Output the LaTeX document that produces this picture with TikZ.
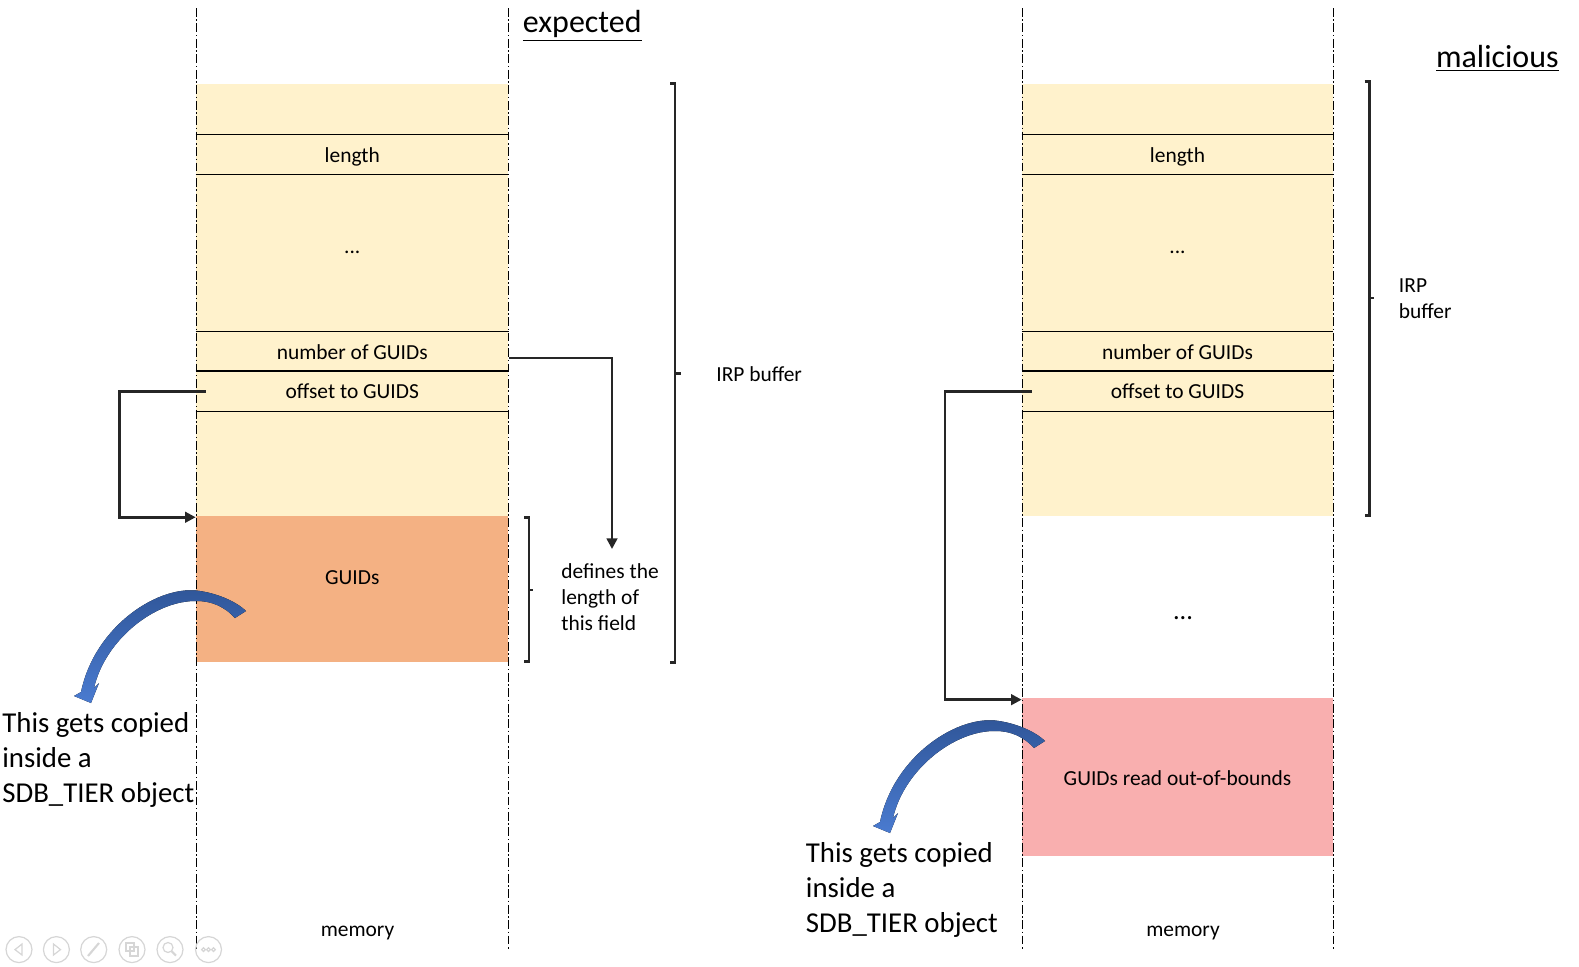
\documentclass[tikz,border=0pt]{standalone}
\usepackage{fontspec}
\setmainfont{Carlito}
\usetikzlibrary{arrows.meta}
\definecolor{buf}{HTML}{FFF2CC}
\definecolor{guid}{HTML}{F4B183}
\definecolor{oob}{HTML}{F9AFAF}
\definecolor{ink}{HTML}{262626}
\definecolor{blueA}{HTML}{2F5597}
\definecolor{blueB}{HTML}{4A7BD0}
\definecolor{uigray}{HTML}{D6D6D6}
\begin{document}
\begin{tikzpicture}[x=0.02cm,y=-0.02cm,
  fnt/.style={font=\fontsize{12.2}{14.8}\selectfont},
  memline/.style={line width=0.5pt, dash pattern=on 5pt off 1.5pt on 0.8pt off 1.5pt},
  rule/.style={line width=0.9pt, black},
  field/.style={fnt, minimum width=6.25cm, minimum height=0.79cm, inner sep=0pt},
  rfield/.style={field, minimum width=6.22cm},
  conn/.style={line width=1.4pt, ink, -{Triangle[length=6pt,width=6pt]}},
  brk/.style={line width=1.4pt, ink},
  big/.style={font=\fontsize{16.4}{19.8}\selectfont, align=left, inner sep=0pt, anchor=west},
  lbl/.style={fnt, align=left, inner sep=0pt, anchor=west},
  title/.style={font=\fontsize{18.2}{20}\selectfont, inner sep=0pt},
  copyarrow/.style={top color=blueA, bottom color=blueB, draw=none},
  uibtn/.style={draw=uigray, line width=0.7pt}
]
\useasboundingbox (0,0) rectangle (1579,967);

% ---------- left (expected) ----------
\node[fill=buf, minimum width=6.25cm, minimum height=8.64cm, inner sep=0pt] (Lbuf) at (352.25,299.6) {};
\node[fill=guid, minimum width=6.25cm, minimum height=2.92cm, inner sep=0pt] (Lguids) at (352.25,588.6) {};
\node[fnt] (LguidsT) at (352.25,578) {GUIDs};

\node[field, minimum height=0.78cm] (Llen) at (352.25,154.5) {};
\node[fnt] (LlenT) at ([yshift=-0.04cm]Llen.center) {length};
\node[fnt, anchor=base] (Ldots) at (352.25,253) {...};
\node[field] (Lnum) at (352.25,351.8) {number of GUIDs};
\node[field] (Loff) at (352.25,391.3) {offset to GUIDS};

\draw[rule] (Llen.north west) -- (Llen.north east);
\draw[rule] (Llen.south west) -- (Llen.south east);
\draw[rule] (Lnum.north west) -- (Lnum.north east);
\draw[rule] (Loff.north west) -- (Loff.north east);
\draw[rule] (Loff.south west) -- (Loff.south east);

\draw[memline] (196,8) -- (196,950);
\draw[memline] (508.5,8) -- (508.5,950);

\node[fnt] (Lmem) at (357.5,933.5) {memory};

\coordinate (Ltarget) at (612,549);
\draw[conn] ([xshift=0.2cm]Loff.west) -- ++(-86,0) |- ([yshift=-0.04cm]Lguids.north west);
\draw[conn] ([yshift=-0.12cm]Lnum.east) -| (Ltarget);

% small bracket
\draw[brk] (524,517.6) -- (529,517.6) -- (529,661.6) -- (524,661.6);
\draw[brk] (529,590) -- (533,590);
\node[lbl] (defines) at (561,597) {defines the\\length of\\this field};

% big bracket
\draw[brk] (670,83.6) -- (675,83.6) -- (675,662.6) -- (670,662.6);
\draw[brk] (675,373.6) -- (681,373.6);
\node[lbl] (irpL) at (716,374.6) {IRP buffer};

\node[title, anchor=west] (expected) at (522.6,26) {\underline{expected}};

\node[big] (copyL) at (2,760) {This gets copied\\inside a\\SDB\_TIER object};

% ---------- right (malicious) ----------
\node[fill=buf, minimum width=6.22cm, minimum height=8.64cm, inner sep=0pt] (Rbuf) at (1177.5,299.6) {};
\node[fill=oob, minimum width=6.22cm, minimum height=3.16cm, inner sep=0pt] (Roob) at (1177.5,777) {};
\node[fnt] (RoobT) at ([yshift=-0.03cm]Roob.center) {GUIDs read out-of-bounds};

\node[rfield, minimum height=0.78cm] (Rlen) at (1177.5,154.5) {};
\node[fnt] (RlenT) at ([yshift=-0.04cm]Rlen.center) {length};
\node[fnt, anchor=base] (Rdots) at (1177.5,253) {...};
\node[rfield] (Rnum) at (1177.5,351.8) {number of GUIDs};
\node[rfield] (Roff) at (1177.5,391.3) {offset to GUIDS};

\draw[rule] (Rlen.north west) -- (Rlen.north east);
\draw[rule] (Rlen.south west) -- (Rlen.south east);
\draw[rule] (Rnum.north west) -- (Rnum.north east);
\draw[rule] (Roff.north west) -- (Roff.north east);
\draw[rule] (Roff.south west) -- (Roff.south east);

\draw[memline] (1022,8) -- (1022,950);
\draw[memline] (1333,8) -- (1333,950);

\node[font=\fontsize{15}{18}\selectfont, anchor=base] (Rgap) at (1183,619) {...};
\node[fnt] (Rmem) at (1183,933.5) {memory};

\draw[conn] ([xshift=0.2cm]Roff.west) -- ++(-86.5,0) |- ([yshift=-0.04cm]Roob.north west);

\draw[brk] (1364.5,81.5) -- (1369.5,81.5) -- (1369.5,515.6) -- (1364.5,515.6);
\draw[brk] (1369.5,298) -- (1374,298);
\node[lbl] (irpR) at (1398.6,299) {IRP\\buffer};

\node[title, anchor=east] (malicious) at (1559,58.5) {\underline{malicious}};

\node[big] (copyR) at (805.6,890) {This gets copied\\inside a\\SDB\_TIER object};

% ---------- curved copy arrows ----------
\fill[copyarrow] (81,692) .. controls (95,625) and (160,584) .. (200,591)
  .. controls (220,594) and (238,603) .. (246,611) -- (235,618)
  .. controls (225,607) and (212,601) .. (197,601)
  .. controls (155,600) and (105,640) .. (94,688)
  -- (99,683) -- (91,703) -- (74,696) -- cycle;
\begin{scope}[shift={(799,130)}]
\fill[copyarrow] (81,692) .. controls (95,625) and (160,584) .. (200,591)
  .. controls (220,594) and (238,603) .. (246,611) -- (235,618)
  .. controls (225,607) and (212,601) .. (197,601)
  .. controls (155,600) and (105,640) .. (94,688)
  -- (99,683) -- (91,703) -- (74,696) -- cycle;
\end{scope}

% ---------- faint slideshow controls ----------
\foreach \cx in {19,56.4,93.7,132,170,208.5}{
  \draw[uibtn] (\cx,949.6) circle [radius=13];
}
\draw[uibtn] (22,944) -- (15,949.6) -- (22,955) -- cycle;
\draw[uibtn] (53.5,944) -- (60.5,949.6) -- (53.5,955) -- cycle;
\draw[uibtn, line width=1.2pt] (88,956) -- (99,943);
\draw[uibtn] (126,943) rectangle (134,951);
\draw[uibtn] (130,947) rectangle (138,956);
\draw[uibtn] (168,947.5) circle [radius=5];
\draw[uibtn, line width=1.2pt] (171.5,951) -- (176,955.5);
\foreach \dx in {-5,0,5}{
  \draw[uibtn] (208.5+\dx,949.6) circle [radius=1.8];
}
\end{tikzpicture}
\end{document}
